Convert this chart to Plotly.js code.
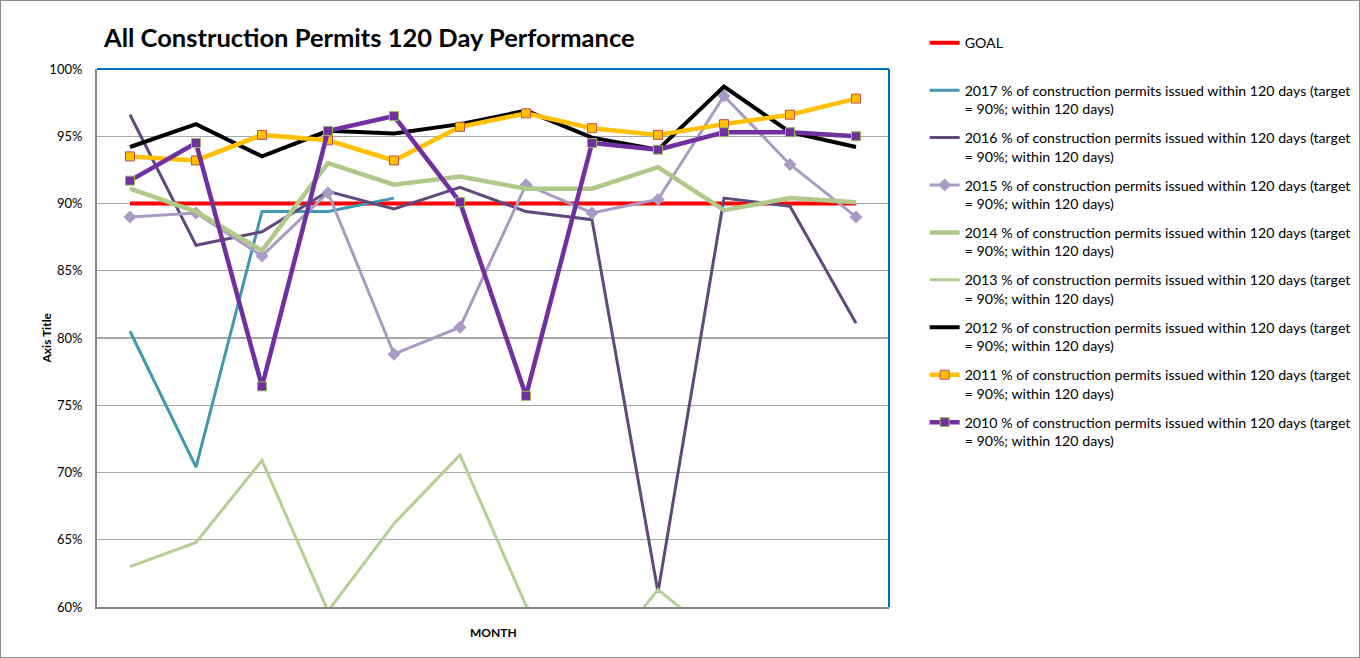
<!DOCTYPE html>
<html><head><meta charset="utf-8">
<script src="https://cdn.plot.ly/plotly-3.0.1.min.js"></script>
<style>html,body{margin:0;padding:0;background:#fff;}#wrap{width:1360px;height:658px;box-sizing:border-box;border:1px solid #8c8c8c;overflow:hidden;}#chart{width:1358px;height:656px;}</style>
</head><body><div id="wrap"><div id="chart"></div></div>
<script>
const months = ['Jan','Feb','Mar','Apr','May','Jun','Jul','Aug','Sep','Oct','Nov','Dec'];
const goal = [0.90,0.90,0.90,0.90,0.90,0.90,0.90,0.90,0.90,0.90,0.90,0.90];
const y2017 = [0.805,0.704,0.894,0.894,0.904];
const y2016 = [0.966,0.869,0.879,0.909,0.896,0.912,0.894,0.888,0.611,0.904,0.898,0.811];
const y2015 = [0.890,0.893,0.861,0.908,0.788,0.808,0.914,0.893,0.903,0.980,0.929,0.890];
const y2014 = [0.911,0.894,0.865,0.930,0.914,0.920,0.911,0.911,0.927,0.895,0.904,0.901];
const y2013 = [0.630,0.648,0.709,0.597,0.662,0.713,0.601,0.551,0.613,0.573];
const y2012 = [0.942,0.959,0.935,0.954,0.952,0.959,0.969,0.949,0.940,0.987,0.953,0.942];
const y2011 = [0.935,0.932,0.951,0.947,0.932,0.957,0.967,0.956,0.951,0.959,0.966,0.978];
const y2010 = [0.917,0.945,0.764,0.954,0.965,0.901,0.757,0.945,0.940,0.953,0.953,0.950];
const seriesSuffix = ' % of construction permits issued within 120 days (target<br>= 90%; within 120 days)';

function tr(name, y, color, width, marker) {
  const t = {x: months.slice(0, y.length), y: y, name: name, type: 'scatter',
    mode: marker ? 'lines+markers' : 'lines', line: {color: color, width: width},
    legendgroup: name, cliponaxis: true};
  if (marker) t.marker = marker;
  return t;
}
const data = [
  tr('GOAL<br> ', goal, '#FF0000', 4),
  tr('2017' + seriesSuffix, y2017, '#4198AF', 3),
  tr('2016' + seriesSuffix, y2016, '#604A7B', 3),
  tr('2015' + seriesSuffix, y2015, '#A99BC4', 3, {symbol: 'diamond', size: 10, color: '#A99BC4'}),
  tr('2014' + seriesSuffix, y2014, '#AFC98A', 4.5),
  tr('2013' + seriesSuffix, y2013, '#B5CF92', 3),
  tr('2012' + seriesSuffix, y2012, '#000000', 4),
  tr('2011' + seriesSuffix, y2011, '#FFC000', 4.5, {symbol: 'square', size: 9, color: '#FFC000', line: {color: '#C0504D', width: 1}}),
  tr('2010' + seriesSuffix, y2010, '#7030A0', 4.5, {symbol: 'square', size: 9, color: '#7030A0', line: {color: '#9BBB59', width: 1}})
];
const layout = {
  width: 1358, height: 656,
  margin: {l: 96, r: 470, t: 68, b: 50, pad: 0, autoexpand: false},
  paper_bgcolor: '#fff', plot_bgcolor: '#fff',
  font: {family: 'Lato, "Noto Sans", sans-serif', color: '#000', size: 13},
  title: {text: '<b>All Construction Permits 120 Day Performance</b>', font: {family: 'Lato, sans-serif', size: 25.5, color: '#000'},
    xref: 'container', yref: 'container', x: 103/1358, xanchor: 'left', y: 1 - 37/656, yanchor: 'middle'},
  xaxis: {type: 'category', range: [-0.5, 11.5], showticklabels: false, showgrid: false, zeroline: false,
    showline: true, linecolor: '#868686', linewidth: 2, ticks: '', fixedrange: true},
  yaxis: {range: [0.6, 1.0], dtick: 0.05, tick0: 0.6, tickformat: '.0%', showgrid: true, gridcolor: '#A6A6A6', gridwidth: 1.3,
    zeroline: false, showline: true, linecolor: '#868686', linewidth: 2, ticks: '', ticklabelstandoff: 10,
    tickfont: {size: 13, color: '#000'}, fixedrange: true},
  showlegend: true,
  legend: {x: 1.045, xanchor: 'left', y: 1.078, yanchor: 'top', valign: 'top', font: {size: 14.2, color: '#000'},
    tracegroupgap: 7.5, bgcolor: 'rgba(0,0,0,0)', itemwidth: 30, maxheight: 640},
  shapes: [
    {type: 'line', xref: 'paper', yref: 'paper', x0: 0, x1: 1, y0: 1, y1: 1, line: {color: '#0070C0', width: 2}},
    {type: 'line', xref: 'paper', yref: 'paper', x0: 1, x1: 1, y0: 0, y1: 1, line: {color: '#0070C0', width: 2}}
  ],
  annotations: [
    {text: '<b>Axis Title</b>', xref: 'paper', yref: 'paper', x: (35-96)/792, y: 0.5, showarrow: false, textangle: -90, font: {size: 12, color: '#000'}},
    {text: '<b>MONTH</b>', xref: 'paper', yref: 'paper', x: 0.5, y: -(631-606)/538, yanchor: 'middle', showarrow: false, font: {size: 12, color: '#000'}}
  ]
};
Plotly.newPlot('chart', data, layout, {displayModeBar: false, staticPlot: true});
</script></body></html>
